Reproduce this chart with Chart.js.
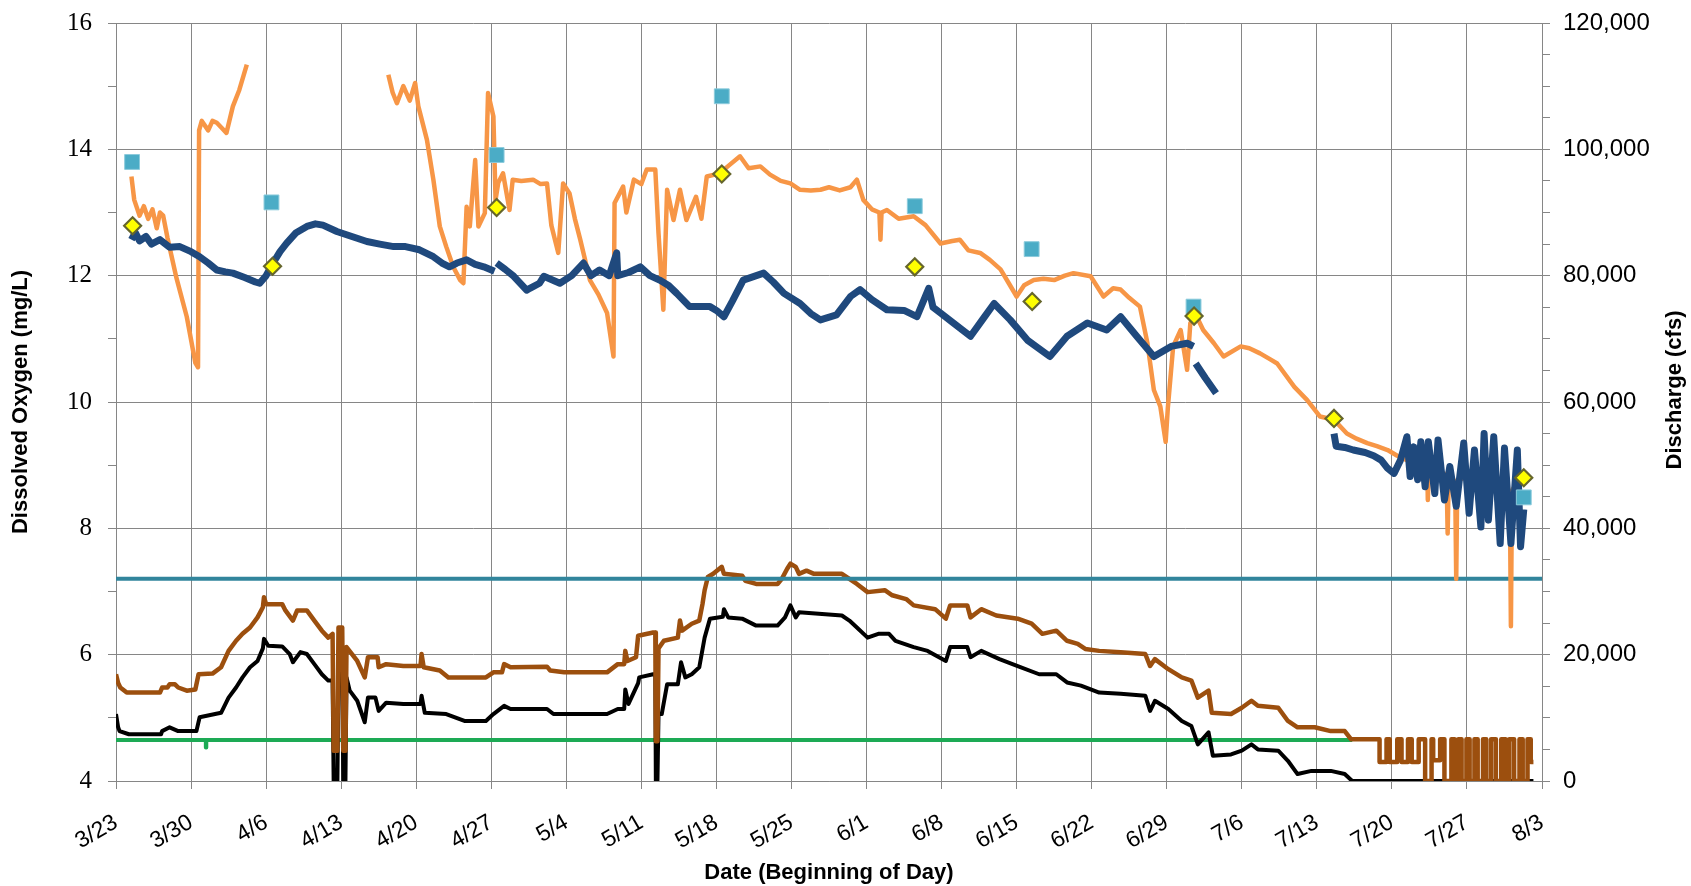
<!DOCTYPE html>
<html>
<head>
<meta charset="utf-8">
<script src="https://cdn.jsdelivr.net/npm/chart.js@4.4.1/dist/chart.umd.min.js"></script>
<style>
html,body{margin:0;padding:0;background:#fff;}
#wrap{width:1691px;height:886px;position:relative;}
</style>
</head>
<body>
<div id="wrap"><canvas id="c"></canvas></div>
<script>
// x = days since 3/23
const xTickLabels = ['3/23','3/30','4/6','4/13','4/20','4/27','5/4','5/11','5/18','5/25','6/1','6/8','6/15','6/22','6/29','7/6','7/13','7/20','7/27','8/3'];

// Dissolved oxygen, station A (orange), [day, mg/L]
const doOrange = [
[1.44,13.57],[1.7,13.2],[2.2,12.95],[2.6,13.1],[3.0,12.9],[3.4,13.05],[3.8,12.75],[4.1,13.0],[4.4,12.95],[4.8,12.6],[5.6,11.99],[6.6,11.35],[7.4,10.62],[7.65,10.55],[7.75,14.3],[8.0,14.45],[8.6,14.3],[9.0,14.45],[9.4,14.42],[9.8,14.35],[10.3,14.26],[10.9,14.68],[11.5,14.94],[12.2,15.34],[12.5,null],
[25.4,15.18],[25.8,14.9],[26.2,14.73],[26.8,15.0],[27.4,14.77],[27.9,15.05],[28.2,14.68],[29.0,14.15],[29.6,13.52],[30.2,12.78],[30.8,12.46],[31.45,12.14],[32.1,11.93],[32.4,11.88],[32.7,13.09],[33.0,12.78],[33.5,13.83],[33.8,12.78],[34.4,12.99],[34.7,14.89],[35.2,14.52],[35.4,13.2],[35.65,13.47],[36.1,13.62],[36.7,13.04],[37.0,13.52],[37.8,13.5],[38.9,13.52],[39.6,13.45],[40.2,13.46],[40.6,12.8],[41.25,12.36],[41.7,13.46],[42.3,13.3],[42.8,12.9],[43.3,12.57],[44.2,11.93],[45.0,11.7],[45.8,11.41],[46.4,10.72],[46.5,13.15],[47.3,13.41],[47.6,13.0],[48.3,13.52],[49.0,13.45],[49.5,13.68],[50.3,13.68],[50.6,12.67],[51.05,11.46],[51.4,13.36],[52.0,12.88],[52.6,13.36],[53.2,12.88],[54.1,13.25],[54.6,12.9],[55.1,13.57],[56.3,13.62],[57.2,13.75],[58.2,13.89],[59.0,13.7],[60.1,13.73],[61.0,13.6],[62.0,13.5],[62.9,13.46],[63.8,13.36],[64.8,13.35],[65.7,13.36],[66.5,13.4],[67.5,13.35],[68.5,13.4],[69.1,13.52],[69.7,13.2],[70.5,13.05],[71.2,13.0],[71.3,12.57],[71.4,13.0],[71.9,13.04],[73.0,12.9],[74.4,12.94],[75.5,12.8],[76.9,12.51],[78.0,12.55],[78.7,12.57],[79.5,12.4],[80.6,12.36],[81.5,12.25],[82.5,12.1],[83.2,11.9],[84.0,11.67],[84.7,11.85],[85.6,11.93],[86.5,11.95],[87.5,11.93],[88.5,12.0],[89.3,12.04],[90.9,11.99],[92.1,11.67],[93.0,11.8],[93.7,11.78],[94.5,11.65],[95.5,11.51],[96.2,10.93],[96.8,10.19],[97.4,9.93],[97.9,9.37],[98.1,9.9],[98.6,10.88],[99.3,11.14],[99.9,10.51],[100.2,11.25],[100.8,11.35],[101.4,11.14],[102.4,10.93],[103.3,10.72],[104.9,10.88],[105.7,10.85],[106.7,10.77],[107.7,10.67],[108.3,10.61],[109.9,10.24],[111.1,10.03],[112.3,9.77],[113.6,9.72],[114.8,9.5],[115.7,9.42],[116.7,9.35],[117.6,9.3],[118.6,9.24],[119.5,9.15],[120.4,9.08],[121.4,9.02],[122.3,8.98],[122.35,8.45],[122.45,8.95],[123.3,8.9],[124.1,8.85],[124.2,7.92],[124.3,8.8],[124.9,8.75],[125.0,7.2],[125.1,8.75],[126.0,8.82],[127.0,8.7],[128.0,8.6],[129.0,8.6],[130.0,8.55],[130.1,6.45],[130.2,8.6],[130.6,8.7]
];

// Dissolved oxygen, station B (dark blue), [day, mg/L]
const doBlue = [
[1.44,12.57],[1.8,12.68],[2.2,12.55],[2.8,12.62],[3.3,12.5],[4.1,12.57],[5.0,12.45],[5.95,12.46],[7.0,12.38],[7.8,12.3],[8.6,12.2],[9.4,12.09],[10.2,12.06],[10.9,12.04],[12.0,11.97],[13.0,11.9],[13.4,11.88],[14.0,12.0],[14.65,12.2],[15.3,12.38],[15.9,12.51],[16.8,12.68],[17.8,12.78],[18.6,12.82],[19.3,12.8],[20.6,12.7],[22.0,12.62],[23.4,12.54],[24.6,12.5],[25.9,12.46],[27.0,12.46],[28.3,12.41],[29.6,12.3],[30.4,12.2],[31.1,12.14],[31.8,12.2],[32.7,12.25],[33.5,12.18],[34.3,12.14],[35.3,12.07],[35.4,null],
[35.5,12.2],[36.3,12.1],[37.1,11.99],[38.3,11.77],[38.6,11.8],[39.5,11.88],[39.9,11.99],[41.4,11.88],[42.5,12.0],[43.6,12.2],[44.3,12.0],[45.1,12.09],[46.0,12.0],[46.7,12.36],[46.8,12.0],[47.8,12.05],[48.9,12.14],[49.8,12.0],[50.7,11.93],[51.5,11.85],[52.3,11.72],[53.5,11.51],[55.4,11.51],[56.0,11.45],[56.7,11.35],[57.5,11.6],[58.5,11.93],[60.4,12.04],[61.3,11.9],[62.3,11.72],[63.8,11.56],[64.8,11.4],[65.7,11.3],[67.2,11.38],[68.5,11.67],[69.4,11.78],[70.5,11.62],[71.9,11.46],[73.5,11.45],[74.7,11.35],[75.8,11.8],[76.2,11.5],[76.9,11.41],[78.1,11.25],[79.7,11.04],[80.8,11.3],[81.9,11.56],[83.4,11.3],[85.0,10.98],[87.1,10.72],[88.7,11.04],[90.6,11.25],[92.4,11.14],[93.7,11.35],[95.2,11.04],[96.8,10.72],[98.4,10.88],[99.9,10.93],[100.5,10.88],[100.6,null],
[100.7,10.61],[101.6,10.38],[102.6,10.14],[102.7,null],
[113.6,9.5],[113.8,9.3],[114.6,9.28],[115.4,9.24],[116.5,9.2],[117.3,9.15],[118.0,9.08],[118.6,8.95],[119.2,8.87],[119.8,9.08],[120.4,9.45],[120.7,8.82],[121.05,9.29],[121.4,8.77],[121.7,9.37],[122.1,8.66],[122.4,9.37],[123.0,8.55],[123.3,9.4],[123.9,8.45],[124.4,8.98],[125.0,8.35],[125.7,9.35],[126.2,8.24],[126.7,9.24],[127.3,8.02],[127.6,9.5],[128.0,8.13],[128.5,9.45],[129.1,7.76],[129.5,9.27],[130.1,7.76],[130.7,9.24],[131.0,7.71],[131.3,8.3]
];

// Spot measurements (mg/L)
const squareSamples = [[1.5,13.8],[14.5,13.16],[35.5,13.91],[56.5,14.84],[74.5,13.1],[85.4,12.42],[100.5,11.51],[131.3,8.49]];
const diamondSamples = [[1.55,12.79],[14.6,12.15],[35.5,13.08],[56.5,13.61],[74.5,12.14],[85.45,11.59],[100.55,11.36],[113.6,9.74],[131.3,8.8]];

// Discharge (cfs), brown station
const qBrown = [
[0,16900],[0.2,15500],[0.4,14800],[1.0,14000],[4.1,14000],[4.3,14800],[4.8,14800],[5.0,15300],[5.5,15300],[5.8,14800],[6.6,14300],[7.4,14500],[7.7,16900],[9.0,17000],[9.8,18000],[10.5,20600],[11.2,22200],[11.8,23300],[12.5,24300],[13.2,25900],[13.7,27500],[13.8,29100],[14.0,28000],[15.5,28000],[15.8,27000],[16.5,25400],[16.9,27000],[17.8,27000],[18.5,25400],[19.2,23800],[19.8,22700],[20.2,23300],[20.3,4800],[20.65,4800],[20.75,24300],[21.1,24300],[21.2,4800],[21.4,4800],[21.5,21200],[22.5,19000],[23.2,16400],[23.5,19600],[24.4,19600],[24.5,18000],[25.2,18500],[26.8,18200],[28.4,18200],[28.5,20100],[28.7,18000],[30.2,17500],[31.0,16400],[34.5,16400],[35.2,17200],[36.0,17200],[36.2,18500],[36.8,18000],[40.2,18100],[40.5,17500],[41.8,17200],[45.8,17200],[46.8,18500],[47.4,18500],[47.5,20600],[47.7,19000],[48.5,19600],[48.7,23000],[50.1,23500],[50.3,23500],[50.35,6300],[50.5,6300],[50.6,21000],[51.1,22200],[52.4,22700],[52.6,25400],[52.8,23800],[53.7,24900],[54.4,25400],[54.7,28000],[54.9,30200],[55.2,32300],[55.7,32800],[56.5,33900],[56.7,32800],[58.4,32500],[58.7,31700],[59.7,31200],[61.7,31200],[62.1,32000],[62.6,33600],[62.9,34400],[63.4,33900],[63.7,32800],[64.4,33300],[65.1,32800],[67.7,32800],[68.4,32000],[69.1,31200],[70.1,29900],[71.7,30200],[72.4,29400],[73.7,28800],[74.4,27800],[76.4,27200],[77.4,25700],[77.8,27800],[79.4,27800],[79.7,25900],[80.7,27200],[82.1,26200],[84.1,25700],[85.4,24900],[86.4,23300],[87.7,23800],[88.7,22200],[89.7,21700],[90.4,20900],[91.7,20600],[93.7,20400],[96.0,20100],[96.45,18200],[96.9,19300],[98.15,17700],[99.4,16400],[100.3,15900],[100.9,13200],[101.9,14300],[102.2,10800],[104.0,10600],[105.0,11600],[105.9,12700],[106.5,11900],[108.4,11600],[109.3,9500],[110.2,8500],[111.8,8500],[113.3,7900],[114.6,7900],[115.2,6600],
[117.85,6600],[117.85,3000],[118.5,3000],[118.5,6600],[118.8,6600],[118.8,3000],[119.5,3000],[119.5,6600],[119.9,6600],[119.9,3000],[120.5,3000],[120.5,6600],[120.85,6600],[120.85,3000],[121.5,3000],[121.5,6600],[122.1,6600],[122.1,0],[122.7,0],[122.7,6600],[122.85,6600],[122.85,3300],[123.5,3300],[123.5,6600],[123.9,6600],[123.9,0],[124.55,0],[124.55,6600],[124.85,6600],[124.85,0],[125.2,0],[125.2,6600],[125.5,6600],[125.5,0],[125.95,0],[125.95,6600],[126.25,6600],[126.25,0],[126.7,0],[126.7,6600],[127.0,6600],[127.0,0],[127.5,0],[127.5,6600],[127.8,6600],[127.8,0],[128.25,0],[128.25,6600],[128.7,6600],[128.7,0],[129.2,0],[129.2,6600],[129.6,6600],[129.6,0],[129.95,0],[129.95,6600],[130.4,6600],[130.4,0],[130.9,0],[130.9,6600],[131.2,6600],[131.2,0],[131.65,0],[131.65,6600],[131.95,6600],[131.95,3000],[132.2,3000]
];

// Discharge (cfs), black station
const qBlack = [
[0,10600],[0.2,8500],[0.33,7900],[1.2,7400],[4.2,7400],[4.3,7900],[5.0,8500],[5.8,7900],[7.5,7900],[7.8,10100],[9.8,10800],[10.5,13200],[11.2,14800],[11.8,16400],[12.5,18000],[13.2,19000],[13.7,21000],[13.8,22500],[14.2,21400],[15.5,21300],[16.2,20100],[16.5,18800],[17.2,20400],[17.8,20100],[18.5,18500],[19.2,16900],[19.8,15900],[20.2,15900],[20.3,0],[20.65,0],[20.75,17000],[21.1,17000],[21.2,0],[21.4,0],[21.5,16400],[21.8,14300],[22.5,12700],[23.2,9300],[23.5,13200],[24.2,13200],[24.5,11100],[25.2,12400],[26.8,12200],[28.4,12200],[28.5,13500],[28.8,10800],[30.8,10600],[32.5,9500],[34.5,9500],[35.2,10600],[36.2,11900],[36.8,11400],[40.2,11400],[40.8,10600],[45.8,10600],[46.8,11400],[47.4,11400],[47.5,14500],[47.8,12200],[48.7,15500],[48.8,16400],[50.1,16900],[50.3,16900],[50.35,0],[50.5,0],[50.6,10600],[50.9,10600],[51.4,15300],[52.4,15300],[52.7,18800],[53.1,16400],[53.7,16900],[54.4,18000],[54.9,22700],[55.4,25700],[56.6,26000],[56.7,27200],[57.1,25900],[58.4,25700],[59.7,24600],[61.7,24600],[62.4,25900],[62.9,27800],[63.4,25900],[63.7,26700],[67.7,26200],[68.4,25400],[69.1,24300],[70.1,22700],[71.1,23300],[72.1,23300],[72.7,22200],[74.4,21200],[75.7,20600],[77.4,19000],[77.8,21200],[79.4,21200],[79.7,19600],[80.7,20600],[82.4,19300],[84.1,18200],[86.1,16900],[87.7,16900],[88.7,15600],[90.0,15100],[91.7,14000],[93.7,13800],[96.0,13500],[96.45,11100],[96.9,12700],[98.15,11400],[99.4,9500],[100.3,8700],[100.9,5800],[101.9,7700],[102.3,4000],[104.0,4200],[105.0,4800],[105.9,5800],[106.5,5000],[108.4,4800],[109.3,3200],[110.2,1100],[111.5,1600],[113.3,1600],[114.6,1100],[115.3,0],[132.2,0]
];

// Reference levels (cfs)
const tealLevel = [[0,32000],[133,32000]];
const greenLevel = [[0,6500],[8.38,6500],[8.38,5300],[8.42,5300],[8.42,6500],[115.3,6500]];

const GRID = '#868686';
const toXY = arr => arr.map(p => ({x: p[0], y: p[1]}));

const rightTitle = {
  id: 'rightTitle',
  afterDraw(chart) {
    const {ctx, chartArea} = chart;
    const s = chart.scales.y2;
    ctx.save();
    ctx.translate(s.right - 16, (chartArea.top + chartArea.bottom) / 2 - 12);
    ctx.rotate(-Math.PI / 2);
    ctx.font = 'bold 22px "Liberation Sans"';
    ctx.fillStyle = '#000';
    ctx.textAlign = 'center';
    ctx.textBaseline = 'middle';
    ctx.fillText('Discharge (cfs)', 0, 0);
    ctx.restore();
  }
};

const lineBase = {pointRadius: 0, spanGaps: false, borderJoinStyle: 'round', fill: false, tension: 0};

new Chart(document.getElementById('c'), {
  type: 'line',
  data: {
    datasets: [
      {label: 'Diamond samples', data: toXY(diamondSamples), yAxisID: 'y', showLine: false,
       pointStyle: 'rectRot', pointRadius: 8.5, pointBackgroundColor: '#FFFF00', pointBorderColor: '#66662C', pointBorderWidth: 2.2},
      {label: 'Square samples', data: toXY(squareSamples), yAxisID: 'y', showLine: false,
       pointStyle: 'rect', pointRadius: 10.5, pointBackgroundColor: '#4BACC6', pointBorderColor: '#8CCBDC', pointBorderWidth: 1},
      Object.assign({label: 'DO B', data: toXY(doBlue), yAxisID: 'y', borderColor: '#1F497D', borderWidth: 7}, lineBase),
      Object.assign({label: 'DO A', data: toXY(doOrange), yAxisID: 'y', borderColor: '#F79646', borderWidth: 4.5}, lineBase),
      Object.assign({label: 'Teal level', data: toXY(tealLevel), yAxisID: 'y2', borderColor: '#31859C', borderWidth: 4}, lineBase),
      Object.assign({label: 'Q brown', data: toXY(qBrown), yAxisID: 'y2', borderColor: '#9C4F0E', borderWidth: 4.5}, lineBase),
      Object.assign({label: 'Q black', data: toXY(qBlack), yAxisID: 'y2', borderColor: '#000000', borderWidth: 4}, lineBase),
      Object.assign({label: 'Green level', data: toXY(greenLevel), yAxisID: 'y2', borderColor: '#1DAA55', borderWidth: 4}, lineBase)
    ]
  },
  options: {
    responsive: true,
    maintainAspectRatio: false,
    animation: false,
    layout: {padding: {top: 23, left: 0, right: 0, bottom: 0}},
    plugins: {legend: {display: false}, tooltip: {enabled: false}},
    scales: {
      x: {
        type: 'linear', min: 0, max: 133,
        afterFit: s => { s.height = 105; s.paddingLeft = 0; s.paddingRight = 0; },
        ticks: {stepSize: 7, autoSkip: false, minRotation: 30, maxRotation: 30, padding: 20, color: '#000',
                font: {family: 'Liberation Sans', size: 23},
                callback: v => xTickLabels[Math.round(v / 7)]},
        grid: {color: GRID, lineWidth: 1, tickLength: 8, tickColor: GRID},
        border: {color: GRID, width: 1},
        title: {display: true, text: 'Date (Beginning of Day)', color: '#000',
                font: {family: 'Liberation Sans', size: 22, weight: 'bold'}, padding: {top: 0, bottom: 0}}
      },
      y: {
        position: 'left', min: 4, max: 16,
        afterFit: s => { s.width = 116; s.paddingTop = 0; s.paddingBottom = 0; },
        ticks: {stepSize: 1, autoSkip: false, padding: 16, color: '#000',
                font: {family: 'Liberation Serif', size: 25},
                callback: v => (v % 2 === 0 ? String(v) : '')},
        grid: {color: c => (c.tick && c.tick.value % 2 === 0 ? GRID : 'rgba(0,0,0,0)'), lineWidth: 1, tickLength: 8, tickColor: GRID},
        border: {color: GRID, width: 1},
        title: {display: true, text: 'Dissolved Oxygen (mg/L)', color: '#000',
                font: {family: 'Liberation Sans', size: 22, weight: 'bold'}, padding: {top: 8, bottom: 0}}
      },
      y2: {
        position: 'right', min: 0, max: 120000,
        afterFit: s => { s.width = 149; s.paddingTop = 0; s.paddingBottom = 0; },
        ticks: {stepSize: 5000, autoSkip: false, padding: 13, color: '#000',
                font: {family: 'Liberation Sans', size: 24},
                callback: v => (v % 20000 === 0 ? v.toLocaleString('en-US') : '')},
        grid: {drawOnChartArea: false, tickLength: 8, tickColor: GRID},
        border: {color: GRID, width: 1},
        title: {display: false}
      }
    }
  },
  plugins: [rightTitle]
});
</script>
</body>
</html>
